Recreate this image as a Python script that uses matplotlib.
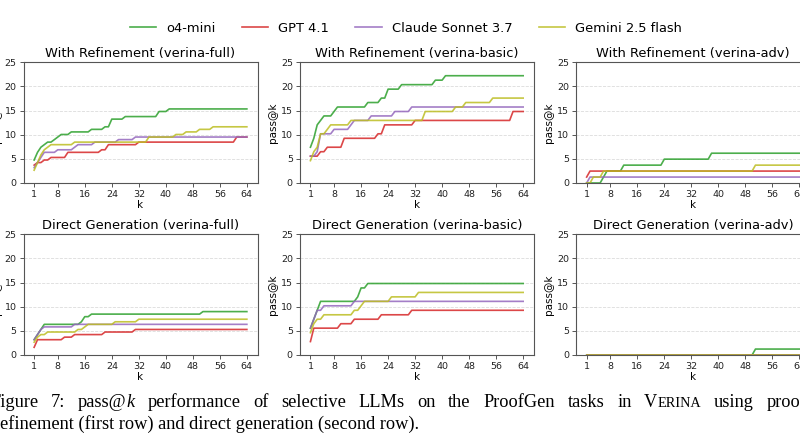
import numpy as np
import matplotlib
matplotlib.use("Agg")
import matplotlib.pyplot as plt

# ---- data: (k, pass@k) vertices ----
models = ["o4-mini", "GPT 4.1", "Claude Sonnet 3.7", "Gemini 2.5 flash"]
colors = ["#2ca02c", "#d62728", "#9467bd", "#bcbd22"]
titles = ["With Refinement (verina-full)", "With Refinement (verina-basic)", "With Refinement (verina-adv)",
          "Direct Generation (verina-full)", "Direct Generation (verina-basic)", "Direct Generation (verina-adv)"]
xticks = [1, 8, 16, 24, 32, 40, 48, 56, 64]
yticks = [0, 5, 10, 15, 20, 25]

ref_full = {
    "o4-mini": ([1, 2, 3, 4, 5, 6, 7, 8, 9, 11, 12, 17, 18, 21, 22, 23, 24, 27, 28, 37, 38, 40, 41, 64],
                [4.76, 6.35, 7.41, 7.94, 8.47, 8.47, 8.99, 9.52, 10.05, 10.05, 10.58, 10.58, 11.11, 11.11,
                 11.64, 11.64, 13.23, 13.23, 13.76, 13.76, 14.81, 14.81, 15.34, 15.34]),
    "GPT 4.1": ([1, 2, 3, 4, 5, 6, 10, 11, 20, 21, 22, 23, 31, 32, 60, 61, 64],
                [3.70, 4.23, 4.23, 4.76, 4.76, 5.29, 5.29, 6.35, 6.35, 6.88, 6.88, 7.94, 7.94, 8.47, 8.47, 9.52, 9.52]),
    "Claude Sonnet 3.7": ([1, 2, 3, 4, 7, 8, 12, 13, 14, 18, 19, 25, 26, 30, 31, 64],
                          [3.17, 4.23, 5.29, 6.35, 6.35, 6.88, 6.88, 7.41, 7.94, 7.94, 8.47, 8.47, 8.99, 8.99, 9.52, 9.52]),
    "Gemini 2.5 flash": ([1, 2, 3, 4, 5, 6, 12, 13, 34, 35, 42, 43, 45, 46, 49, 50, 53, 54, 64],
                         [2.65, 4.23, 5.82, 6.88, 7.41, 7.94, 7.94, 8.47, 8.47, 9.52, 9.52, 10.05, 10.05, 10.58,
                          10.58, 11.11, 11.11, 11.64, 11.64]),
}
ref_basic = {
    "o4-mini": ([1, 2, 3, 4, 5, 7, 8, 9, 17, 18, 21, 22, 23, 24, 27, 28, 37, 38, 40, 41, 64],
                [7.41, 9.26, 12.04, 12.96, 13.89, 13.89, 14.81, 15.74, 15.74, 16.67, 16.67, 17.59, 17.59, 19.44,
                 19.44, 20.37, 20.37, 21.30, 21.30, 22.22, 22.22]),
    "GPT 4.1": ([1, 3, 4, 5, 6, 10, 11, 20, 21, 22, 23, 31, 32, 60, 61, 64],
                [5.56, 5.56, 6.48, 6.48, 7.41, 7.41, 9.26, 9.26, 10.19, 10.19, 12.04, 12.04, 12.96, 12.96, 14.81, 14.81]),
    "Claude Sonnet 3.7": ([1, 2, 3, 4, 7, 8, 12, 13, 14, 18, 19, 25, 26, 30, 31, 64],
                          [5.56, 5.56, 6.48, 10.19, 10.19, 11.11, 11.11, 12.04, 12.96, 12.96, 13.89, 13.89,
                           14.81, 14.81, 15.74, 15.74]),
    "Gemini 2.5 flash": ([1, 2, 3, 4, 5, 6, 7, 12, 13, 34, 35, 43, 44, 46, 47, 54, 55, 64],
                         [4.63, 6.48, 7.41, 10.19, 10.19, 11.11, 12.04, 12.04, 12.96, 12.96, 14.81, 14.81,
                          15.74, 15.74, 16.67, 16.67, 17.59, 17.59]),
}
ref_adv = {
    "o4-mini": ([1, 5, 6, 7, 11, 12, 23, 24, 37, 38, 64],
                [0, 0, 1.23, 2.47, 2.47, 3.70, 3.70, 4.94, 4.94, 6.17, 6.17]),
    "GPT 4.1": ([1, 2, 64], [1.23, 2.47, 2.47]),
    "Claude Sonnet 3.7": ([1, 2, 64], [0, 1.23, 1.23]),
    "Gemini 2.5 flash": ([1, 2, 3, 5, 6, 50, 51, 64], [0, 0, 1.23, 1.23, 2.47, 2.47, 3.70, 3.70]),
}
dir_full = {
    "o4-mini": ([1, 2, 3, 4, 14, 15, 16, 17, 18, 50, 51, 64],
                [3.17, 4.23, 5.29, 6.35, 6.35, 6.88, 7.94, 7.94, 8.47, 8.47, 8.99, 8.99]),
    "GPT 4.1": ([1, 2, 9, 10, 12, 13, 21, 22, 30, 31, 64],
                [1.59, 3.17, 3.17, 3.70, 3.70, 4.23, 4.23, 4.76, 4.76, 5.29, 5.29]),
    "Claude Sonnet 3.7": ([1, 2, 3, 4, 12, 13, 64], [3.17, 4.23, 5.29, 5.82, 5.82, 6.35, 6.35]),
    "Gemini 2.5 flash": ([1, 2, 3, 4, 5, 13, 14, 15, 16, 17, 24, 25, 31, 32, 64],
                         [2.65, 3.70, 4.23, 4.23, 4.76, 4.76, 5.29, 5.29, 5.82, 6.35, 6.35, 6.88, 6.88, 7.41, 7.41]),
}
dir_basic = {
    "o4-mini": ([1, 2, 3, 4, 14, 15, 16, 17, 18, 64],
                [5.56, 7.41, 9.26, 11.11, 11.11, 12.04, 13.89, 13.89, 14.81, 14.81]),
    "GPT 4.1": ([1, 2, 9, 10, 13, 14, 21, 22, 30, 31, 64],
                [2.78, 5.56, 5.56, 6.48, 6.48, 7.41, 7.41, 8.33, 8.33, 9.26, 9.26]),
    "Claude Sonnet 3.7": ([1, 2, 3, 4, 5, 13, 14, 64], [5.56, 7.41, 9.26, 9.26, 10.19, 10.19, 11.11, 11.11]),
    "Gemini 2.5 flash": ([1, 2, 3, 4, 5, 13, 14, 15, 16, 17, 24, 25, 32, 33, 64],
                         [4.63, 6.48, 7.41, 7.41, 8.33, 8.33, 9.26, 9.26, 10.19, 11.11, 11.11, 12.04, 12.04,
                          12.96, 12.96]),
}
dir_adv = {
    "o4-mini": ([1, 50, 51, 64], [0, 0, 1.23, 1.23]),
    "GPT 4.1": ([1, 64], [0, 0]),
    "Claude Sonnet 3.7": ([1, 64], [0, 0]),
    "Gemini 2.5 flash": ([1, 64], [0, 0]),
}
panels = [ref_full, ref_basic, ref_adv, dir_full, dir_basic, dir_adv]

# caption words: each word is a list of (text, size factor, style)
caption_line1 = [[("Figure", 1, "normal")], [("7:", 1, "normal")],
                 [("pass@", 1, "normal"), ("k", 1, "italic")],
                 [("performance", 1, "normal")], [("of", 1, "normal")], [("selective", 1, "normal")],
                 [("LLMs", 1, "normal")], [("on", 1, "normal")], [("the", 1, "normal")],
                 [("ProofGen", 1, "normal")], [("tasks", 1, "normal")], [("in", 1, "normal")],
                 [("V", 1, "normal"), ("ERINA", 0.78, "normal")], [("using", 1, "normal")],
                 [("proof", 1, "normal")]]
caption_line2 = "refinement (first row) and direct generation (second row)."

W, H = 800, 445
fig = plt.figure(figsize=(W / 100, H / 100), dpi=100)

col_left = [23.5, 299.8, 576]   # px
row_top = [62.3, 234.3]         # px from top
ax_w, ax_h = 234, 120.7

lines = []
for i, data in enumerate(panels):
    r, c = divmod(i, 3)
    ax = fig.add_axes([col_left[c] / W, 1 - (row_top[r] + ax_h) / H, ax_w / W, ax_h / H])
    for m, col in zip(models, colors):
        ks, vs = data[m]
        ln, = ax.plot(ks, vs, color=col, lw=1.2, alpha=0.85)
        if i == 0:
            lines.append(ln)
    ax.set_ylim(0, 25)
    ax.set_xticks(xticks)
    ax.set_yticks(yticks)
    ax.grid(axis="y", ls="--", lw=0.6, color="#cccccc", alpha=0.7)
    ax.set_title(titles[i], fontsize=9.4, pad=4)
    ax.set_xlabel("k", fontsize=7.5, labelpad=1)
    ax.set_ylabel("pass@k", fontsize=7.5, labelpad=2)
    ax.tick_params(labelsize=6.8, length=3, width=0.7, color="#555555", labelcolor="#222222", pad=2)
    for s in ax.spines.values():
        s.set_color("#555555")
        s.set_linewidth(0.8)

fig.legend(lines, models, loc="center", bbox_to_anchor=(406 / W, 1 - 28 / H), ncol=4,
           frameon=False, fontsize=9.4, handlelength=2.0, handletextpad=0.8, columnspacing=2.0)

# caption (page text below the figure)
rend = fig.canvas.get_renderer()
cap = dict(family="Liberation Serif", fontsize=13.2, color="black", va="baseline")


def width(s, scale=1, style="normal"):
    t = fig.text(0, 0, s, **{**cap, "fontsize": cap["fontsize"] * scale, "style": style})
    w = t.get_window_extent(rend).width
    t.remove()
    return w


space = width("a a") - width("aa")

# line 1 is justified: stretch the spaces so that "proo" ends at the right edge
word_w = [sum(width(*seg) for seg in word) for word in caption_line1]
x0 = -10
x_end = W + width("proof") - width("proo")
gap = (x_end - x0 - sum(word_w)) / (len(caption_line1) - 1)
x = x0
for word, ww in zip(caption_line1, word_w):
    xs = x
    for txt, scale, style in word:
        fig.text(xs / W, 1 - 407 / H, txt, **{**cap, "fontsize": cap["fontsize"] * scale, "style": style})
        xs += width(txt, scale, style)
    x += ww + gap

fig.text(-6 / W, 1 - 429 / H, caption_line2, **cap)

fig.savefig("out.png", dpi=100)
